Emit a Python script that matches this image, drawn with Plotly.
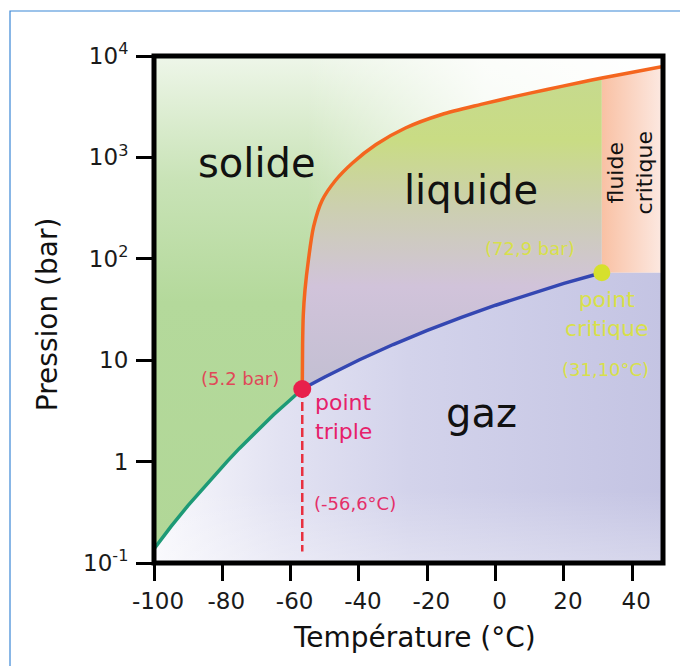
import plotly.graph_objects as go

# ---------------- data ----------------
# sublimation curve (solide / gaz)
SUB_T = [-100, -95, -90, -85, -80, -78.5, -75, -70, -65, -60, -56.6]
SUB_P = [0.138, 0.23, 0.37, 0.58, 0.89, 1.01, 1.35, 2.0, 2.9, 4.1, 5.2]
# fusion curve (solide / liquide)
FUS_T = [-56.6, -56.5, -56.3, -55.8, -54.8, -53.3, -50.8, -46.9, -41.9, -35.0,
         -26.4, -15.8, -4.3, 5.1, 15.05, 24.7, 31.1, 39.3, 49.0]
FUS_P = [5.2, 14.1, 27.9, 49.2, 97, 206, 376, 592, 881, 1340,
         1950, 2650, 3330, 3950, 4680, 5480, 6070, 6840, 7890]
# vaporisation curve (liquide / gaz)
VAP_T = [-56.6, -50, -40, -30, -20, -10, 0, 10, 20, 31.1]
VAP_P = [5.2, 6.82, 10.05, 14.28, 19.7, 26.49, 34.85, 45.0, 57.3, 72.9]

TRIPLE = (-56.6, 5.2)
CRITICAL = (31.1, 72.9)
TRIPLE_DROP_P = 0.13

X_TICKS = [-100, -80, -60, -40, -20, 0, 20, 40]
X_TICKTEXT = ["-100", "-80", "-60", "-40", "-20", "0", "20", "40"]
Y_TICKS = [0.1, 1, 10, 100, 1000, 10000]
Y_TICKTEXT = ["10<sup>-1</sup>", "1", "10", "10<sup>2</sup>", "10<sup>3</sup>", "10<sup>4</sup>"]

X_RANGE = [-100, 49]
Y_MIN, Y_MAX = 0.1, 10000

FONT = "DejaVu Sans"

fig = go.Figure()

# ---------------- region polygons built from the curves ----------------
solid_x = [X_RANGE[0], X_RANGE[1]] + FUS_T[::-1] + SUB_T[::-1][1:]
solid_y = [Y_MAX, Y_MAX] + FUS_P[::-1] + SUB_P[::-1][1:]
ic = FUS_T.index(CRITICAL[0])
liq_x = FUS_T[:ic + 1] + [CRITICAL[0]] + VAP_T[::-1][1:]
liq_y = FUS_P[:ic + 1] + [CRITICAL[1]] + VAP_P[::-1][1:]
fc_x = [CRITICAL[0]] + FUS_T[ic:] + [X_RANGE[1]]
fc_y = [CRITICAL[1]] + FUS_P[ic:] + [CRITICAL[1]]
gas_x = SUB_T + VAP_T[1:] + [X_RANGE[1], X_RANGE[1], X_RANGE[0]]
gas_y = SUB_P + VAP_P[1:] + [CRITICAL[1], Y_MIN, Y_MIN]


def region(x, y, gtype, scale):
    fig.add_trace(go.Scatter(
        x=x, y=y, mode="lines", fill="toself", line=dict(width=0),
        fillgradient=dict(type=gtype, colorscale=scale),
        hoverinfo="skip", showlegend=False))


region(solid_x, solid_y, "vertical",
       [[0, "#b1d797"], [0.5, "#b4d99b"], [0.75, "#c9e3b7"], [1, "#eef6e9"]])
region(solid_x, solid_y, "horizontal",
       [[0, "rgba(255,255,255,0)"], [0.3, "rgba(255,255,255,0)"],
        [0.65, "rgba(255,255,255,0.8)"], [1, "rgba(255,255,255,1)"]])
region(liq_x, liq_y, "vertical",
       [[0, "#c2bfd2"], [0.33, "#d1c3da"], [0.58, "#cccfb0"], [0.8, "#c9dc84"], [1, "#c6da8e"]])
region(fc_x, fc_y, "horizontal",
       [[0, "#f9c1a4"], [1, "#fce9e2"]])
region(gas_x, gas_y, "horizontal",
       [[0, "#f8f8fc"], [0.25, "#e2e2f2"], [0.5, "#d3d3eb"], [1, "#c4c4e3"]])
region(gas_x, gas_y, "vertical",
       [[0, "rgba(255,255,255,0.3)"], [0.25, "rgba(255,255,255,0)"], [1, "rgba(255,255,255,0)"]])

# ---------------- curves ----------------
fig.add_trace(go.Scatter(x=SUB_T, y=SUB_P, mode="lines",
                         line=dict(color="#1d9a76", width=3.5), hoverinfo="skip", showlegend=False))
fig.add_trace(go.Scatter(x=FUS_T, y=FUS_P, mode="lines",
                         line=dict(color="#f4661f", width=3.5, shape="spline", smoothing=0.8),
                         hoverinfo="skip", showlegend=False))
fig.add_trace(go.Scatter(x=VAP_T, y=VAP_P, mode="lines",
                         line=dict(color="#3447b2", width=3.5), hoverinfo="skip", showlegend=False))
fig.add_trace(go.Scatter(x=[TRIPLE[0], TRIPLE[0]], y=[TRIPLE[1], TRIPLE_DROP_P], mode="lines",
                         line=dict(color="#e8303f", width=2.5, dash="9px,4px"),
                         hoverinfo="skip", showlegend=False))
fig.add_trace(go.Scatter(x=[TRIPLE[0]], y=[TRIPLE[1]], mode="markers",
                         marker=dict(color="#e8204c", size=18), hoverinfo="skip", showlegend=False))
fig.add_trace(go.Scatter(x=[CRITICAL[0]], y=[CRITICAL[1]], mode="markers",
                         marker=dict(color="#d6e02c", size=17), hoverinfo="skip", showlegend=False))


# ---------------- labels ----------------
def label(text, x, logy, size, color, xanchor="center", angle=0):
    fig.add_annotation(x=x, y=logy, xref="x", yref="y", text=text, showarrow=False,
                       xanchor=xanchor, yanchor="middle", textangle=angle,
                       align="left" if xanchor == "left" else "center",
                       font=dict(family=FONT, size=size, color=color))


label("solide", -69.9, 2.945, 40, "#111111")
label("liquide", -7.2, 2.68, 40, "#111111")
label("gaz", -4.0, 0.48, 40, "#111111")
label("fluide<br>critique", 39.3, 2.85, 22, "#111111", angle=-90)
label("(72,9 bar)", 10.1, 2.097, 18, "#d8e04a")
label("point<br>critique", 32.6, 1.456, 22, "#d8e04a")
label("(31,10°C)", 32.3, 0.913, 18, "#d8e04a")
label("(5.2 bar)", -74.8, 0.82, 18, "#e04858")
label("point<br>triple", -53.45, 0.44, 22, "#e6206a", xanchor="left")
label("(-56,6°C)", -53.7, -0.41, 18, "#e4306a", xanchor="left")

# axis titles
fig.add_annotation(x=0.511, y=-0.146, xref="paper", yref="paper", text="Température (°C)",
                   showarrow=False, xanchor="center", yanchor="middle",
                   font=dict(family=FONT, size=28, color="#111111"))
fig.add_annotation(x=-0.210, y=0.491, xref="paper", yref="paper", text="Pression (bar)",
                   showarrow=False, xanchor="center", yanchor="middle", textangle=-90,
                   font=dict(family=FONT, size=28, color="#111111"))

# ---------------- frames ----------------
fig.add_shape(type="rect", xref="paper", yref="paper", x0=0, x1=1, y0=0, y1=1,
              line=dict(color="black", width=5), layer="above")
fig.add_shape(type="rect", xref="paper", yref="paper", x0=-0.2829, x1=1.2, y0=-0.3, y1=1.0888,
              line=dict(color="#3b87d6", width=1.2), layer="above")

fig.update_xaxes(range=X_RANGE, tickvals=X_TICKS, ticktext=X_TICKTEXT, ticks="outside",
                 ticklen=17, tickwidth=3, tickcolor="black", showgrid=False, zeroline=False,
                 showline=False, ticklabelshift=4,
                 tickfont=dict(family=FONT, size=23, color="#1a1a1a"))
fig.update_yaxes(type="log", range=[-1, 4], tickvals=Y_TICKS, ticktext=Y_TICKTEXT,
                 ticks="outside", ticklen=17, tickwidth=3, tickcolor="black",
                 showgrid=False, zeroline=False, showline=False, ticklabelstandoff=3,
                 tickfont=dict(family=FONT, size=23, color="#1a1a1a"))

fig.update_layout(width=680, height=666, margin=dict(l=154, r=17, t=56, b=103),
                  paper_bgcolor="white", plot_bgcolor="white", showlegend=False)

fig.write_html("out.html")
